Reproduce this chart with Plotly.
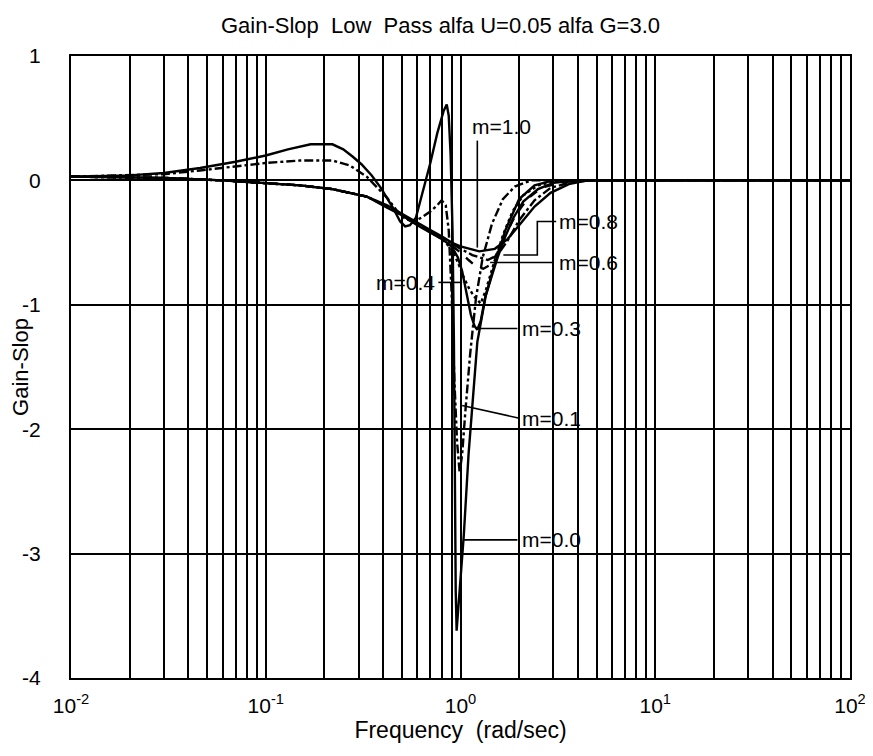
import math
import plotly.graph_objects as go

# ---------------- data ----------------
f_m00 = [0.01, 0.02, 0.03, 0.046, 0.07, 0.1, 0.13, 0.17, 0.22, 0.25, 0.28, 0.31, 0.35, 0.39,
         0.45, 0.49, 0.52, 0.55, 0.59, 0.64, 0.70, 0.76, 0.82, 0.85, 0.87, 0.89, 0.91, 0.925,
         0.935, 0.945, 0.955, 0.975, 1.0, 1.04, 1.1, 1.16, 1.22, 1.35, 1.48, 1.7, 2.0, 2.4, 3.0, 100]
g_m00 = [0.03, 0.04, 0.06, 0.10, 0.15, 0.20, 0.25, 0.29, 0.29, 0.25, 0.19, 0.13, 0.04, -0.06,
         -0.22, -0.33, -0.37, -0.36, -0.30, -0.10, 0.14, 0.38, 0.56, 0.61, 0.52, 0.20, -0.40, -1.30,
         -2.40, -3.30, -3.62, -3.45, -3.20, -2.85, -2.20, -1.70, -1.30, -0.92, -0.70, -0.40, -0.15, -0.04, 0.0, 0.0]

f_m01 = [0.01, 0.02, 0.03, 0.046, 0.07, 0.1, 0.15, 0.22, 0.27, 0.33, 0.38, 0.42, 0.47, 0.52,
         0.57, 0.63, 0.70, 0.76, 0.80, 0.84, 0.87, 0.90, 0.93, 0.96, 0.99, 1.02, 1.06, 1.12,
         1.2, 1.3, 1.45, 1.65, 1.9, 2.3, 100]
g_m01 = [0.03, 0.04, 0.05, 0.08, 0.11, 0.14, 0.16, 0.16, 0.12, 0.03, -0.07, -0.14, -0.24, -0.31,
         -0.33, -0.30, -0.25, -0.20, -0.16, -0.20, -0.40, -0.90, -1.60, -2.10, -2.35, -2.20, -1.85, -1.40,
         -0.95, -0.62, -0.35, -0.15, -0.05, 0.0, 0.0]

f_m03 = [0.01, 0.03, 0.06, 0.1, 0.15, 0.22, 0.33, 0.42, 0.5, 0.6, 0.7, 0.8, 0.9, 0.97, 1.02,
         1.08, 1.13, 1.18, 1.22, 1.27, 1.34, 1.44, 1.55, 1.7, 1.87, 2.1, 2.5, 3.0, 4.0, 100]
g_m03 = [0.03, 0.02, 0.0, -0.02, -0.04, -0.07, -0.13, -0.22, -0.28, -0.36, -0.42, -0.47, -0.53, -0.62, -0.73,
         -0.92, -1.08, -1.17, -1.20, -1.13, -0.94, -0.78, -0.62, -0.45, -0.30, -0.17, -0.07, -0.02, 0.0, 0.0]

f_m04 = [0.01, 0.03, 0.06, 0.1, 0.15, 0.22, 0.33, 0.42, 0.5, 0.6, 0.7, 0.8, 0.9, 0.97, 1.04,
         1.1, 1.17, 1.27, 1.35, 1.48, 1.66, 1.85, 2.1, 2.5, 3.2, 100]
g_m04 = [0.03, 0.02, 0.0, -0.02, -0.04, -0.07, -0.13, -0.21, -0.28, -0.35, -0.41, -0.47, -0.55, -0.66, -0.78,
         -0.86, -0.93, -0.99, -0.88, -0.67, -0.43, -0.25, -0.12, -0.04, 0.0, 0.0]

f_m06 = [0.01, 0.03, 0.06, 0.1, 0.15, 0.22, 0.33, 0.42, 0.5, 0.6, 0.7, 0.8, 0.9, 1.0, 1.1,
         1.2, 1.31, 1.42, 1.55, 1.7, 1.9, 2.2, 2.6, 3.2, 4.0, 100]
g_m06 = [0.03, 0.02, 0.0, -0.02, -0.04, -0.07, -0.13, -0.21, -0.28, -0.35, -0.41, -0.46, -0.52, -0.58, -0.64,
         -0.69, -0.71, -0.68, -0.58, -0.44, -0.29, -0.15, -0.06, -0.02, 0.0, 0.0]

f_m08 = [0.01, 0.03, 0.06, 0.1, 0.15, 0.22, 0.33, 0.42, 0.5, 0.6, 0.7, 0.8, 0.9, 1.0, 1.15,
         1.38, 1.55, 1.75, 2.0, 2.4, 2.9, 3.6, 4.5, 100]
g_m08 = [0.03, 0.02, 0.0, -0.02, -0.04, -0.07, -0.13, -0.21, -0.28, -0.35, -0.41, -0.46, -0.51, -0.55, -0.60,
         -0.64, -0.60, -0.48, -0.32, -0.16, -0.06, -0.02, 0.0, 0.0]

f_m10 = [0.01, 0.03, 0.06, 0.1, 0.15, 0.22, 0.33, 0.42, 0.5, 0.6, 0.7, 0.8, 0.9, 1.0, 1.25,
         1.5, 1.75, 2.0, 2.4, 2.9, 3.6, 4.5, 100]
g_m10 = [0.03, 0.02, 0.0, -0.02, -0.04, -0.07, -0.13, -0.20, -0.27, -0.34, -0.40, -0.45, -0.50, -0.53, -0.57,
         -0.55, -0.47, -0.36, -0.21, -0.10, -0.03, 0.0, 0.0]

series_freq = [f_m00, f_m01, f_m03, f_m04, f_m06, f_m08, f_m10]
series_gain = [g_m00, g_m01, g_m03, g_m04, g_m06, g_m08, g_m10]
series_name = ["m=0.0", "m=0.1", "m=0.3", "m=0.4", "m=0.6", "m=0.8", "m=1.0"]
series_dash = ["solid", "dashdot", "solid", "dot", "dash", "dashdot", "solid"]

# labels and their leader lines (data coordinates)
label_text = ["m=1.0", "m=0.8", "m=0.6", "m=0.4", "m=0.3", "m=0.1", "m=0.0"]
label_x = [1.125, 3.14, 3.14, 0.76, 2.03, 2.03, 2.03]
label_y = [0.43, -0.33, -0.66, -0.82, -1.19, -1.91, -2.89]
label_anchor = ["left", "left", "left", "right", "left", "left", "left"]
leader_x = [[1.22, 1.22], [3.1, 2.48, 2.48, 1.66], [3.0, 1.42], [0.77, 1.02],
            [1.96, 1.22], [1.98, 1.02], [1.96, 1.04]]
leader_y = [[0.32, -0.54], [-0.33, -0.33, -0.6, -0.6], [-0.66, -0.66], [-0.82, -0.82],
            [-1.19, -1.19], [-1.91, -1.81], [-2.89, -2.89]]

# axis ticks / grid
x_grid = [m * 10.0 ** e for e in range(-2, 2) for m in range(1, 10)] + [100]
x_ticktext = [("10<sup>%d</sup>" % e if m == 1 else "") for e in range(-2, 2) for m in range(1, 10)] + ["10<sup>2</sup>"]
y_ticks = [1, 0, -1, -2, -3, -4]
y_ticktext = ["1", "0", "-1", "-2", "-3", "-4"]

FONT = "Liberation Sans, Arial"

# ---------------- figure ----------------
fig = go.Figure()
for fx, gy, nm, ds in zip(series_freq, series_gain, series_name, series_dash):
    fig.add_trace(go.Scatter(x=fx, y=gy, mode="lines", name=nm,
                             line=dict(color="black", width=2.4, dash=ds), showlegend=False))

for lx, ly in zip(leader_x, leader_y):
    fig.add_trace(go.Scatter(x=lx, y=ly, mode="lines", line=dict(color="black", width=1.6),
                             showlegend=False, hoverinfo="skip"))

for t, x, y, a in zip(label_text, label_x, label_y, label_anchor):
    fig.add_annotation(x=math.log10(x), y=y, text=t, showarrow=False,
                       xanchor=a, yanchor="middle",
                       font=dict(family=FONT, size=21, color="black"))

# the page body adds an 8 px offset, so the figure is 8 px smaller than the window
fig.update_layout(
    width=865, height=748,
    margin=dict(l=63, r=23, t=48, b=78, autoexpand=False),
    paper_bgcolor="white", plot_bgcolor="white",
    font=dict(family=FONT, size=21, color="black"),
    title=dict(text="Gain-Slop  Low  Pass alfa U=0.05 alfa G=3.0", x=0.5, xanchor="center",
               y=0.977, yanchor="middle", font=dict(size=22)),
)
fig.update_xaxes(type="log", range=[-2, 2], tickmode="array", tickvals=x_grid, ticktext=x_ticktext,
                 showgrid=True, gridcolor="black", gridwidth=1.6, zeroline=False, automargin=False,
                 showline=True, linecolor="black", linewidth=2, mirror=True, ticks="",
                 tickfont=dict(size=21), ticklabelstandoff=8,
                 title=dict(text="Frequency  (rad/sec)", font=dict(size=23), standoff=4))
fig.update_yaxes(range=[-4, 1], tickmode="array", tickvals=y_ticks, ticktext=y_ticktext,
                 showgrid=True, gridcolor="black", gridwidth=1.6, zeroline=False, automargin=False,
                 showline=True, linecolor="black", linewidth=2, mirror=True, ticks="",
                 tickfont=dict(size=21), ticklabelstandoff=24,
                 title=dict(text="Gain-Slop", font=dict(size=22), standoff=2))

fig.write_html("out.html")
